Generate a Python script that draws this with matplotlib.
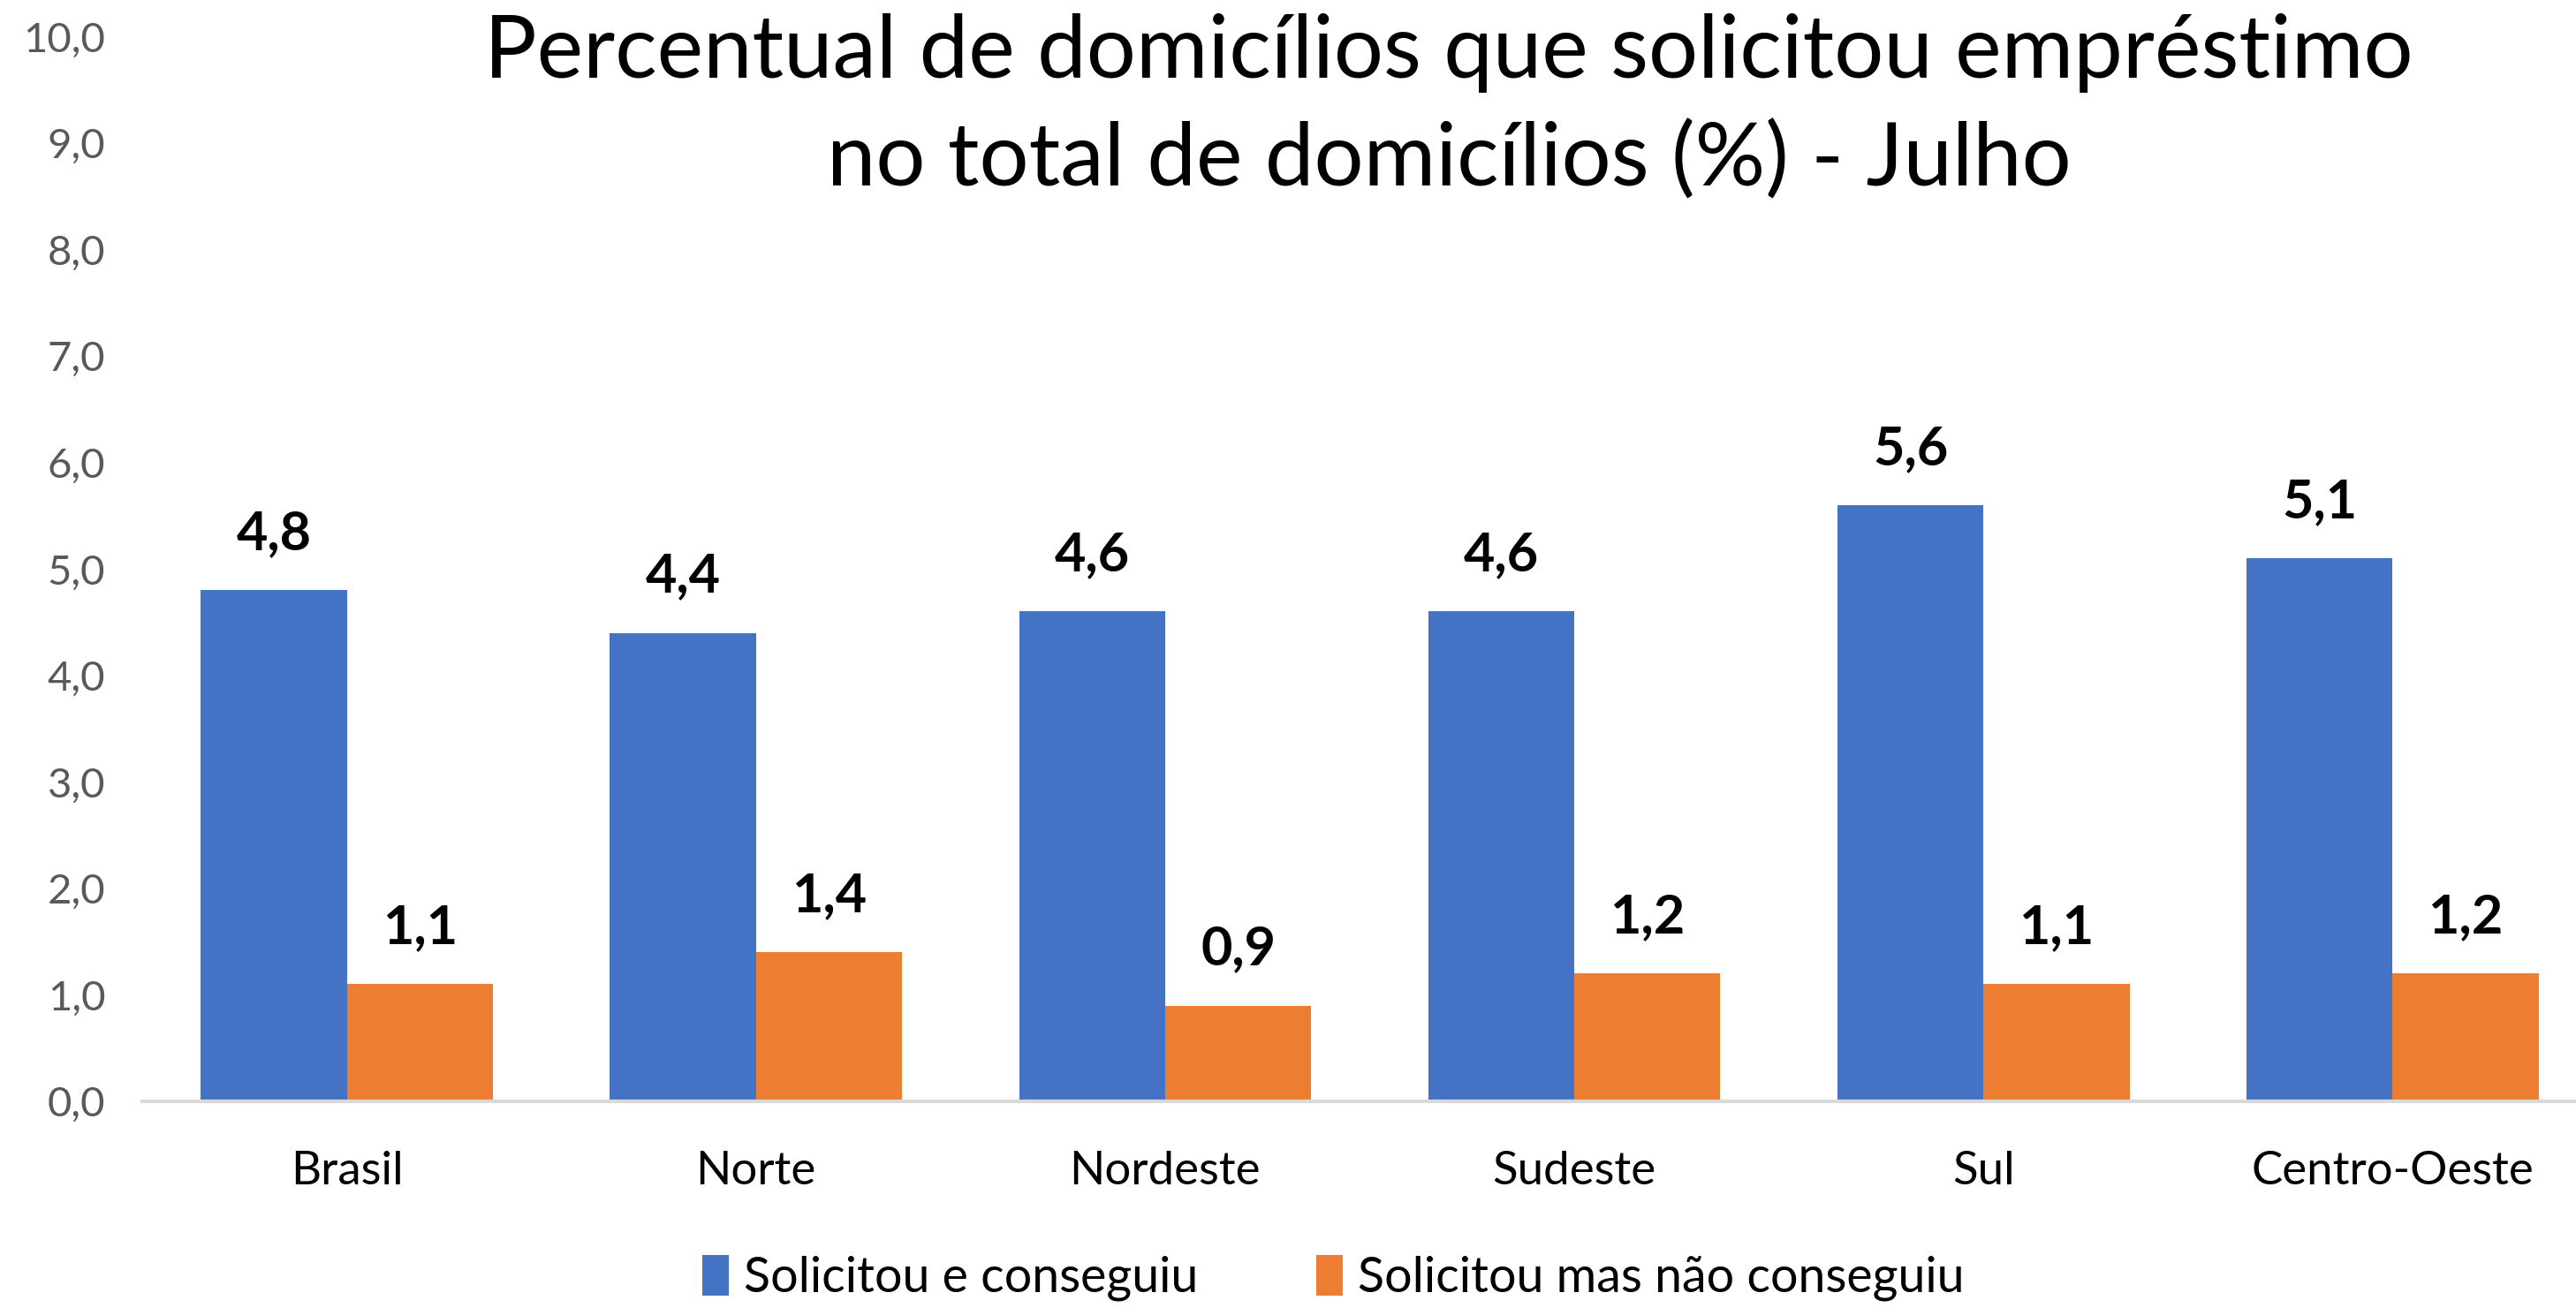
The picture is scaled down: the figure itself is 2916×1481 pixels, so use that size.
"""
Percentual de domicílios que solicitou empréstimo - Julho
"""

import matplotlib.pyplot as plt
import numpy as np
from matplotlib.patches import Patch

plt.rcParams['font.family'] = ['Lato', 'DejaVu Sans']

# Data
regioes = ['Brasil', 'Norte', 'Nordeste', 'Sudeste', 'Sul', 'Centro-Oeste']
conseguiu = [4.8, 4.4, 4.6, 4.6, 5.6, 5.1]
nao_conseguiu = [1.1, 1.4, 0.9, 1.2, 1.1, 1.2]
yticks = [0, 1, 2, 3, 4, 5, 6, 7, 8, 9, 10]

blue = '#4472c4'
orange = '#ed7d31'

fig = plt.figure(figsize=(29.16, 14.81), dpi=100)
ax = fig.add_axes([0.0552, 0.158, 0.953, 0.814])

x = np.arange(len(regioes))
w = 0.357
ax.bar(x - w / 2, conseguiu, w, color=blue)
ax.bar(x + w / 2, nao_conseguiu, w, color=orange)

# Value labels
for xi, v in zip(x, conseguiu):
    ax.annotate(f'{v:.1f}'.replace('.', ','), xy=(xi - w / 2, v), xytext=(0, 26),
                textcoords='offset points', ha='center', va='bottom',
                fontsize=44, fontweight='bold')
for xi, v in zip(x, nao_conseguiu):
    ax.annotate(f'{v:.1f}'.replace('.', ','), xy=(xi + w / 2, v), xytext=(0, 26),
                textcoords='offset points', ha='center', va='bottom',
                fontsize=44, fontweight='bold')

ax.set_xlim(-0.5, 5.5)
ax.set_ylim(0, 10)
ax.set_yticks(yticks)
ax.set_yticklabels([f'{t:.1f}'.replace('.', ',') for t in yticks],
                   fontsize=34, color='#595959')
ax.set_xticks(x)
ax.set_xticklabels(regioes, fontsize=38)
ax.tick_params(axis='y', length=0, pad=30)
ax.tick_params(axis='x', length=0, pad=40)

for s in ['top', 'right', 'left']:
    ax.spines[s].set_visible(False)
ax.spines['bottom'].set_color('#d9d9d9')
ax.spines['bottom'].set_linewidth(3)

fig.text(0.5625, 0.99, 'Percentual de domicílios que solicitou empréstimo\nno total de domicílios (%) - Julho',
         ha='center', va='top', fontsize=71.5, linespacing=1.42)

handles = [Patch(facecolor=blue, label='Solicitou e conseguiu'),
           Patch(facecolor=orange, label='Solicitou mas não conseguiu')]
fig.legend(handles=handles, loc='center', bbox_to_anchor=(0.5175, 0.023),
           ncol=2, frameon=False, fontsize=40, handlelength=0.55,
           handleheight=0.9, handletextpad=0.3, columnspacing=2.4)

plt.savefig('out.png', dpi=100)
plt.close()
